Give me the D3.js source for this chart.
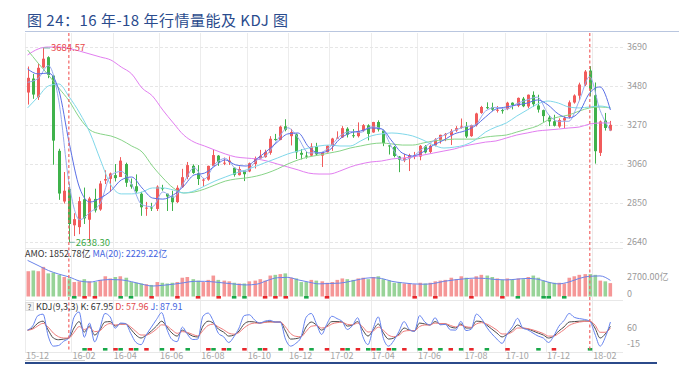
<!DOCTYPE html>
<html>
<head>
<meta charset="utf-8">
<script src="https://cdn.jsdelivr.net/npm/d3@7"></script>
<style>
  body { margin: 0; background: #fff; }
  svg { display: block; }
  text { font-family: "Noto Sans CJK SC", "Noto Sans", sans-serif; }
</style>
</head>
<body>
<div id="chart"></div>
<script>
// weekly bars: first trading day of each week
var weeks = ["2015-12-01","2015-12-07","2015-12-14","2015-12-21","2015-12-28","2016-01-04","2016-01-11","2016-01-18","2016-01-25","2016-02-01",
  "2016-02-15","2016-02-22","2016-02-29","2016-03-07","2016-03-14","2016-03-21","2016-03-28","2016-04-05","2016-04-11","2016-04-18",
  "2016-04-25","2016-05-03","2016-05-09","2016-05-16","2016-05-23","2016-05-30","2016-06-06","2016-06-13","2016-06-20","2016-06-27",
  "2016-07-04","2016-07-11","2016-07-18","2016-07-25","2016-08-01","2016-08-08","2016-08-15","2016-08-22","2016-08-29","2016-09-05",
  "2016-09-12","2016-09-19","2016-09-26","2016-10-10","2016-10-17","2016-10-24","2016-10-31","2016-11-07","2016-11-14","2016-11-21",
  "2016-11-28","2016-12-05","2016-12-12","2016-12-19","2016-12-26","2017-01-03","2017-01-09","2017-01-16","2017-01-23","2017-02-03",
  "2017-02-13","2017-02-20","2017-02-27","2017-03-06","2017-03-13","2017-03-20","2017-03-27","2017-04-05","2017-04-10","2017-04-17",
  "2017-04-24","2017-05-02","2017-05-08","2017-05-15","2017-05-22","2017-05-31","2017-06-05","2017-06-12","2017-06-19","2017-06-26",
  "2017-07-03","2017-07-10","2017-07-17","2017-07-24","2017-07-31","2017-08-07","2017-08-14","2017-08-21","2017-08-28","2017-09-04",
  "2017-09-11","2017-09-18","2017-09-25","2017-10-09","2017-10-16","2017-10-23","2017-10-30","2017-11-06","2017-11-13","2017-11-20",
  "2017-11-27","2017-12-04","2017-12-11","2017-12-18","2017-12-25","2018-01-02","2018-01-08","2018-01-15","2018-01-22","2018-01-29",
  "2018-02-05","2018-02-12","2018-02-26","2018-03-05"];

var open = [3445,3520,3420,3580,3635,3536,3131,2858,2925,2730,
  2720,2870,2760,2872,2815,2971,2980,3000,2990,3060,
  2950,2940,2900,2820,2826,2818,2930,2900,2885,2855,
  2935,2990,3050,3010,2975,2976,3050,3105,3064,3070,
  3040,3000,3025,3020,3060,3090,3097,3120,3195,3190,
  3263,3210,3220,3120,3105,3105,3154,3105,3123,3160,
  3200,3203,3250,3215,3210,3240,3268,3230,3286,3240,
  3160,3152,3100,3080,3090,3105,3100,3155,3125,3160,
  3190,3215,3215,3240,3255,3262,3210,3270,3335,3366,
  3365,3352,3350,3357,3390,3374,3412,3370,3432,3375,
  3350,3310,3290,3262,3294,3314,3391,3428,3487,3563,
  3430,3120,3294,3240];
var high = [3585,3545,3600,3684.57,3640,3539,3142,3017,2953,2795,
  2883,2933,2883,2927,2969,3026,3014,3060,3097,3067,
  2982,3004,2910,2856,2851,2945,2948,2900,2916,2945,
  3034,3071,3058,3054,2985,3051,3140,3108,3095,3101,
  3041,3047,3025,3068,3100,3136,3137,3210,3222,3266,
  3301,3249,3224,3140,3125,3172,3174,3125,3161,3201,
  3236,3264,3258,3248,3284,3275,3274,3287,3295,3245,
  3161,3157,3103,3115,3115,3125,3162,3162,3165,3199,
  3218,3227,3248,3264,3305,3286,3272,3336,3373,3392,
  3390,3372,3357,3395,3392,3418,3421,3434,3451,3433,
  3353,3323,3325,3306,3316,3402,3435,3498,3566,3587,
  3499,3294,3335,3292];
var low = [3380,3411,3405,3575,3522,3056,2867,2847,2638.30,2672,
  2682,2737,2639,2799,2808,2952,2911,2966,2990,2937,
  2927,2905,2781,2781,2807,2807,2916,2807,2807,2850,
  2932,2978,3007,2947,2940,2970,3049,3050,3054,3055,
  2992,2998,2968,3016,3036,3088,3094,3110,3185,3188,
  3236,3160,3087,3085,3089,3103,3105,3044,3122,3131,
  3195,3200,3203,3201,3203,3232,3187,3228,3235,3156,
  3111,3096,3016,3070,3022,3086,3080,3117,3118,3155,
  3170,3183,3162,3233,3250,3200,3206,3262,3330,3356,
  3346,3337,3331,3350,3354,3366,3366,3360,3368,3337,
  3287,3264,3262,3255,3254,3305,3385,3403,3480,3424,
  3062,3103,3240,3237];
var close = [3524,3434,3578,3627,3539,3186,2901,2916,2737,2763,
  2860,2767,2874,2810,2955,2979,3009,2984,3078,2959,
  2938,2913,2827,2825,2821,2938,2927,2885,2854,2932,
  2989,3054,3012,2979,2976,3050,3108,3070,3067,3078,
  3002,3033,3005,3064,3090,3104,3125,3196,3192,3261,
  3244,3232,3123,3110,3104,3154,3112,3123,3159,3197,
  3202,3253,3218,3213,3237,3269,3222,3286,3246,3173,
  3155,3103,3083,3091,3107,3105,3158,3123,3158,3192,
  3217,3222,3238,3253,3262,3208,3269,3332,3367,3365,
  3353,3352,3348,3390,3378,3416,3371,3433,3382,3353,
  3318,3289,3266,3297,3307,3392,3429,3488,3558,3462,
  3129,3289,3254,3271];
// turnover, 亿 per day
var amount = [3500,3600,3500,4100,3200,3300,3000,2700,2500,2000,
  2100,2400,2100,2000,2300,2800,2500,2700,2800,2600,
  2000,1900,1800,1700,1600,2000,1900,1800,1900,2000,
  2600,2700,2400,2200,2000,2300,2900,2300,2200,2100,
  1900,1800,1800,2100,2200,2400,2200,2900,3000,3100,
  3200,2600,2500,2000,2000,2300,2200,2100,1900,2000,
  2300,2500,2400,2300,2500,2600,2400,2700,2800,2400,
  2200,1900,2000,1800,1800,1700,1900,1800,1900,2100,
  2200,2300,2600,2400,2800,2600,2400,2800,3000,2900,
  2700,2500,2300,2500,2400,2500,2400,2700,2900,2600,
  2200,2000,1900,1900,1800,2600,2800,3000,3100,3100,
  3000,2200,2100,1852.78];

// moving averages, read at evenly spaced points across the range
var ma10 = [3500,3520,3590,3400,2950,2760,2800,2850,3000,3020,2950,2840,2830,2910,2880,2960,3040,2980,3060,3090,
  3035,3020,3080,3110,3190,3255,3200,3120,3120,3150,3210,3235,3230,3260,3250,3150,3080,3100,3145,3185,
  3215,3240,3260,3270,3345,3365,3355,3385,3405,3420,3330,3290,3290,3400,3530,3350,3240];
var ma20 = [3572,3545,3550,3458,3173,2931,2855,2877,2915,2974,2990,2931,2877,2871,2893,2941,3001,3011,3049,3082,
  3055,3049,3087,3130,3178,3222,3227,3152,3119,3135,3195,3227,3238,3254,3249,3184,3119,3103,3125,3162,
  3189,3222,3238,3265,3313,3356,3367,3378,3388,3405,3378,3329,3308,3340,3442,3475,3351];
var ma60 = [3362,3421,3480,3491,3421,3335,3227,3082,2947,2899,2899,2909,2931,2931,2920,2904,2915,2941,2968,2990,
  3011,3028,3049,3071,3092,3114,3130,3146,3157,3162,3157,3157,3184,3211,3222,3227,3222,3211,3189,3162,
  3146,3151,3162,3189,3232,3259,3281,3318,3351,3383,3399,3388,3367,3362,3367,3372,3362];
var ma120 = [3674,3604,3539,3469,3399,3308,3243,3222,3211,3189,3157,3125,3049,2985,2931,2904,2909,2925,2947,2968,
  2979,2985,2995,3011,3033,3060,3082,3098,3108,3119,3130,3146,3157,3168,3173,3168,3162,3162,3173,3184,
  3189,3194,3194,3194,3205,3211,3216,3232,3248,3265,3297,3313,3324,3345,3362,3367,3362];
var ma250 = [3647,3679,3690,3690,3682,3668,3652,3636,3620,3582,3545,3469,3426,3350,3281,3216,3178,3157,3135,3114,
  3098,3092,3087,3076,3060,3044,3028,3011,3006,3006,3022,3044,3060,3071,3076,3087,3092,3098,3108,3119,
  3130,3141,3157,3168,3178,3184,3200,3216,3227,3238,3243,3248,3254,3259,3275,3281,3281];
var amountMa20 = [5000,4300,3600,3100,2700,2150,2000,2250,2350,2300,2050,1700,1450,1550,1700,1900,2100,2100,2000,1850,
  1700,1600,1700,2200,2600,2650,2300,2000,1750,1800,1850,2100,2400,2600,2500,2100,1900,1750,1700,1800,
  2100,2300,2450,2550,2500,2350,2300,2400,2500,2400,2000,1750,2000,2500,2800,2850,2229.22];

// KDJ(9,3,3), one reading per bar
var kdjK = [50,60,83,92,50,13,5,8,13,60,90,41,69,27,50,88,90,69,79,79,
  55,27,13,27,46,69,92,65,36,22,50,36,22,18,69,92,83,55,41,22,
  27,46,79,90,88,83,88,90,88,88,46,8,10,18,65,88,74,50,69,90,
  90,88,69,74,90,50,22,50,79,36,8,13,32,60,50,46,83,79,74,90,
  79,79,65,60,79,60,60,92,90,74,55,36,18,32,50,74,60,55,46,36,
  27,13,22,46,65,88,90,92,93,92,60,13,32,67.95];
var kdjD = [50,55,70,82,64,36,19,13,13,39,67,53,62,43,47,70,81,74,77,78,
  65,44,27,27,37,55,75,70,51,35,43,39,30,23,48,72,78,65,52,36,
  31,39,61,77,83,83,86,88,88,88,65,34,21,19,44,68,71,60,65,79,
  85,87,77,75,83,65,41,46,64,49,26,19,26,45,48,47,67,74,74,83,
  81,80,72,65,73,66,63,79,85,79,66,50,32,32,42,60,60,57,51,43,
  34,22,22,35,52,72,82,88,91,92,74,40,40,57.96];
var kdjJ = [50,70,118,125,22,-25,-22,-2,13,110,135,17,83,-5,56,128,112,59,83,81,
  35,-7,-18,27,64,100,132,55,6,-4,64,30,6,8,115,130,93,35,19,-8,
  19,60,118,122,98,83,92,96,88,88,8,-25,-12,16,110,128,80,30,77,115,
  104,90,53,72,108,20,-18,58,112,10,-25,1,44,90,54,44,118,89,74,108,
  75,77,51,50,91,48,54,125,104,64,33,8,-12,32,66,105,60,51,36,22,
  13,-8,22,68,95,128,110,104,100,92,32,-25,16,87.91];

var priceTicks = [2640, 2850, 3060, 3270, 3480, 3690];
var amountTicks = [0, 2700];
var kdjTicks = [-15, 60];
var tickLabels = ["15-12","16-02","16-04","16-06","16-08","16-10","16-12","17-02","17-04","17-06","17-08","17-10","17-12","18-02"];
var markDates = ["2016-01-25", "2018-01-29"];
var amountSignals = [["2016-02-01","g"],["2016-02-22","r"],["2016-03-07","r"],["2016-04-11","g"],["2016-04-25","g"],
  ["2016-05-23","r"],["2016-06-27","r"],["2016-07-25","r"],["2016-08-22","r"],["2016-09-12","g"],["2016-09-26","g"],
  ["2016-10-31","r"],["2016-11-14","r"],["2016-11-28","r"],["2016-12-26","g"],["2017-01-23","r"],["2017-05-31","r"],
  ["2017-06-26","r"],["2017-08-14","r"],["2017-09-25","r"],["2017-10-23","g"],["2017-11-27","g"],["2017-12-04","g"],["2017-12-25","g"]];
var kdjSignals = [["2016-02-22","g"],["2016-02-29","r"],["2016-03-21","g"],["2016-04-05","r"],["2016-04-11","g"],["2016-04-25","r"],
  ["2016-05-03","g"],["2016-05-16","r"],["2016-06-06","g"],["2016-06-20","r"],["2016-07-11","g"],["2016-08-08","r"],
  ["2016-08-15","g"],["2016-08-29","r"],["2016-09-05","g"],["2016-09-26","r"],["2016-10-24","g"],["2016-10-31","r"],
  ["2016-11-21","g"],["2016-12-19","r"],["2017-01-03","g"],["2017-01-23","r"],["2017-02-20","r"],["2017-02-27","g"],
  ["2017-03-13","r"],["2017-03-27","g"],["2017-04-05","r"],["2017-04-10","g"],["2017-04-24","r"],["2017-05-02","g"],
  ["2017-05-15","r"],["2017-06-05","g"],["2017-06-19","r"],["2017-07-03","g"],["2017-07-17","r"],["2017-07-31","g"],
  ["2017-08-14","r"],["2017-09-04","g"],["2017-10-09","r"],["2017-11-20","g"],["2017-12-11","r"],["2018-01-29","g"]];

var upColor = "#f15b5b", downColor = "#3fb24b";

var svg = d3.select("#chart").append("svg")
    .attr("width", 679)
    .attr("height", 369);

var left = 25, right = 623;
var n = weeks.length;
var x = d3.scaleLinear().domain([0, n]).range([left, 613]);
var y = d3.scaleLinear().domain([2640, 3690]).range([242, 47]);
var vy = d3.scaleLinear().domain([0, 2700]).range([296.5, 277]);
var ky = d3.scaleLinear().domain([-15, 60]).range([344, 328]);

// title
svg.append("text")
    .attr("x", 27).attr("y", 26)
    .attr("font-size", 15)
    .attr("fill", "#2a4b8d")
    .attr("textLength", 261)
    .attr("lengthAdjust", "spacing")
    .text("图 24：16 年-18 年行情量能及 KDJ 图");
svg.append("line")
    .attr("x1", 25).attr("x2", 679).attr("y1", 31.5).attr("y2", 31.5)
    .attr("stroke", "#b9c6df").attr("stroke-width", 1);

// grid
var tickIdx = tickLabels.map(function(t) {
  var key = "20" + t;
  return weeks.findIndex(function(w) { return w.slice(0, 7) === key; });
});
svg.append("g").selectAll("line").data(tickIdx).join("line")
    .attr("x1", function(d) { return Math.round(x(d)) + 0.5; })
    .attr("x2", function(d) { return Math.round(x(d)) + 0.5; })
    .attr("y1", 33).attr("y2", 352)
    .attr("stroke", "#ececec");
svg.append("g").selectAll("line").data(priceTicks).join("line")
    .attr("x1", left).attr("x2", right)
    .attr("y1", function(d) { return Math.round(y(d)) + 0.5; })
    .attr("y2", function(d) { return Math.round(y(d)) + 0.5; })
    .attr("stroke", "#e6e6e6").attr("stroke-dasharray", "3,2");
[248.5, 300.5, 352.5].forEach(function(yy) {
  svg.append("line").attr("x1", left).attr("x2", right).attr("y1", yy).attr("y2", yy)
      .attr("stroke", "#e8e8e8");
});

// axis labels
svg.append("g").selectAll("text").data(priceTicks).join("text")
    .attr("x", 627).attr("y", function(d) { return y(d); })
    .attr("dy", "0.35em").attr("font-size", 9).attr("fill", "#9a9a9a")
    .text(function(d) { return d; });
svg.append("g").selectAll("text").data(amountTicks).join("text")
    .attr("x", 627).attr("y", function(d) { return d === 0 ? 294 : vy(d); })
    .attr("dy", "0.35em").attr("font-size", 9).attr("fill", "#9a9a9a")
    .text(function(d) { return d === 0 ? "0" : d3.format(".2f")(d) + "亿"; });
svg.append("g").selectAll("text").data(kdjTicks).join("text")
    .attr("x", 627).attr("y", function(d) { return ky(d); })
    .attr("dy", "0.35em").attr("font-size", 9).attr("fill", "#9a9a9a")
    .text(function(d) { return d; });
svg.append("g").selectAll("text").data(tickLabels).join("text")
    .attr("x", function(d, i) { return x(tickIdx[i]) + 1; })
    .attr("y", 359).attr("font-size", 9).attr("fill", "#a5a5a5")
    .text(function(d) { return d; });

// candles
var idx = d3.range(n);
var cx = function(i) { return x(i + 0.5); };
var isUp = function(i) { return close[i] >= open[i]; };
var candles = svg.append("g");
candles.selectAll("line").data(idx).join("line")
    .attr("x1", function(i) { return Math.round(cx(i)) + 0.5; })
    .attr("x2", function(i) { return Math.round(cx(i)) + 0.5; })
    .attr("y1", function(i) { return y(high[i]); })
    .attr("y2", function(i) { return y(low[i]); })
    .attr("stroke", function(i) { return isUp(i) ? upColor : downColor; });
candles.selectAll("rect").data(idx).join("rect")
    .attr("x", function(i) { return Math.round(cx(i)) - 1; })
    .attr("width", 3)
    .attr("y", function(i) { return y(Math.max(open[i], close[i])); })
    .attr("height", function(i) { return Math.max(1, Math.abs(y(open[i]) - y(close[i]))); })
    .attr("fill", function(i) { return isUp(i) ? upColor : downColor; });

// moving averages
function sampledLine(values, scale) {
  var m = values.length;
  return d3.line()
    .x(function(d, k) { return x(k * (n - 1) / (m - 1) + 0.5); })
    .y(function(d) { return scale(d); })
    .curve(d3.curveMonotoneX)(values);
}
[[ma250, "#e27ef0"], [ma120, "#88d488"], [ma60, "#80d8ea"], [ma10, "#97abef"], [ma20, "#5a6fe6"]].forEach(function(s) {
  svg.append("path").attr("d", sampledLine(s[0], y))
      .attr("fill", "none").attr("stroke", s[1]).attr("stroke-width", 1);
});

// high / low marks
var hi = d3.maxIndex(high), lo = d3.minIndex(low);
svg.append("line").attr("x1", cx(hi)).attr("x2", cx(hi) + 7)
    .attr("y1", y(high[hi])).attr("y2", y(high[hi])).attr("stroke", "#7bb7a8");
svg.append("text").attr("x", cx(hi) + 8).attr("y", y(high[hi])).attr("dy", "0.35em")
    .attr("font-size", 9.5).attr("fill", "#e8474a").text(d3.format(".2f")(high[hi]));
svg.append("line").attr("x1", cx(lo)).attr("x2", cx(lo) + 6)
    .attr("y1", y(low[lo])).attr("y2", y(low[lo])).attr("stroke", "#7bb7a8");
svg.append("text").attr("x", cx(lo) + 7).attr("y", y(low[lo])).attr("dy", "0.35em")
    .attr("font-size", 9.5).attr("fill", "#3aa845").text(d3.format(".2f")(low[lo]));

// turnover
svg.append("g").selectAll("rect").data(idx).join("rect")
    .attr("x", function(i) { return Math.round(cx(i)) - 1.5; })
    .attr("width", 3.6)
    .attr("y", function(i) { return vy(amount[i]); })
    .attr("height", function(i) { return vy(0) - vy(amount[i]); })
    .attr("fill", function(i) { return isUp(i) ? "#f59797" : "#98d398"; });
svg.append("path").attr("d", sampledLine(amountMa20, vy))
    .attr("fill", "none").attr("stroke", "#6b84ea").attr("stroke-width", 1);

var fmt = d3.format(".2f");
var amoHead = svg.append("text").attr("x", 25).attr("y", 257).attr("font-size", 9);
amoHead.append("tspan").attr("fill", "#333").text("AMO: " + fmt(amount[n - 1]) + "亿 ");
amoHead.append("tspan").attr("fill", "#3f63e0").text("MA(20): " + fmt(amountMa20[amountMa20.length - 1]) + "亿");

// KDJ
[[kdjK, "#4a4a4a"], [kdjD, "#ef7d7d"], [kdjJ, "#6482f0"]].forEach(function(s) {
  svg.append("path")
      .attr("d", d3.line().x(function(d, i) { return cx(i); }).y(function(d) { return ky(d); })
        .curve(d3.curveMonotoneX)(s[0]))
      .attr("fill", "none").attr("stroke", s[1]).attr("stroke-width", 1);
});
svg.append("rect").attr("x", 25.5).attr("y", 302.5).attr("width", 8).attr("height", 8)
    .attr("fill", "#f2f2f2").attr("stroke", "#ddd");
svg.append("text").attr("x", 29.5).attr("y", 309.5).attr("font-size", 8).attr("text-anchor", "middle")
    .attr("fill", "#555").text("?");
var kdjHead = svg.append("text").attr("x", 36).attr("y", 309.5).attr("font-size", 9);
kdjHead.append("tspan").attr("fill", "#333").text("KDJ(9,3,3) K: " + fmt(kdjK[n - 1]) + " ");
kdjHead.append("tspan").attr("fill", "#e04848").text("D: " + fmt(kdjD[n - 1]) + " ");
kdjHead.append("tspan").attr("fill", "#3f63e0").text("J: " + fmt(kdjJ[n - 1]));

// signal marks
function drawSignals(list, yy) {
  svg.append("g").selectAll("rect").data(list).join("rect")
      .attr("x", function(d) { return cx(weeks.indexOf(d[0])) - 2; })
      .attr("y", yy).attr("width", 4.5).attr("height", 2.6)
      .attr("fill", function(d) { return d[1] === "r" ? "#e8262b" : "#19a84a"; });
}
drawSignals(amountSignals, 296);
drawSignals(kdjSignals, 348);

// dashed markers
svg.append("g").selectAll("line").data(markDates).join("line")
    .attr("x1", function(d) { return cx(weeks.indexOf(d)); })
    .attr("x2", function(d) { return cx(weeks.indexOf(d)); })
    .attr("y1", 33).attr("y2", 352)
    .attr("stroke", "#f26464").attr("stroke-width", 1.2).attr("stroke-dasharray", "3,2.5");

// bottom frame
svg.append("rect").attr("x", 25).attr("y", 360).attr("width", 60).attr("height", 1).attr("fill", "#cfcfcf");
svg.append("rect").attr("x", 25).attr("y", 362).attr("width", 632).attr("height", 2).attr("fill", "#2b4a8a");
</script>
</body>
</html>
